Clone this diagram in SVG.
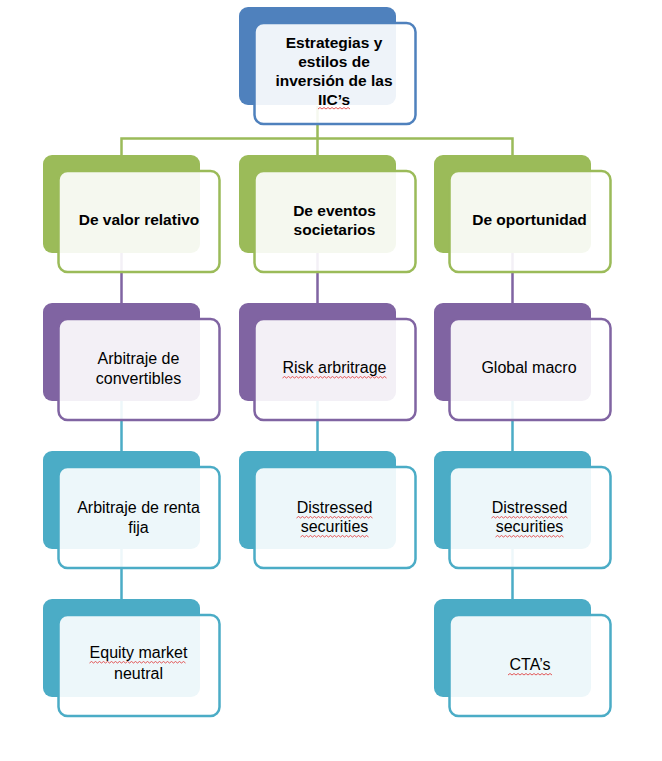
<svg xmlns="http://www.w3.org/2000/svg" width="662" height="761" viewBox="0 0 662 761">
<style>
.bk{stroke:none}
.fr{fill:#fff;fill-opacity:0.9;stroke-width:2.5}
.g .bk{fill:#9BBB59}.g .fr{stroke:#9BBB59}
.p .bk{fill:#8064A2}.p .fr{stroke:#8064A2}
.b .bk{fill:#4BACC6}.b .fr{stroke:#4BACC6}
.t .bk{fill:#4F81BD}.t .fr{stroke:#4F81BD}
text{font-family:"Liberation Sans",Arial,sans-serif;font-size:16px;fill:#000;text-anchor:middle}
.bd{font-weight:bold;font-size:15.5px}
.cn{fill:none;stroke-width:2.5}
.sq{fill:none;stroke:#e03030;stroke-width:0.8}
</style>
<rect width="662" height="761" fill="#fff"/>
<g id="connectors">
<path class="cn" stroke="#9BBB59" d="M317.5,106 V138.5 M121.5,155 V138.5 H512.5 V155 M317.5,138.5 V155"/>
<path class="cn" stroke="#8064A2" d="M121.5,253 V303 M317.5,253 V303 M512.5,253 V303"/>
<path class="cn" stroke="#4BACC6" d="M121.5,401 V451 M317.5,401 V451 M512.5,401 V451 M121.5,549 V599 M512.5,549 V599"/>
</g>
<g id="n-root" class="t"><rect class="bk" x="239" y="7" width="157" height="98" rx="9"/><rect class="fr" x="254.5" y="23" width="161" height="101" rx="9"/>
<text class="bd" x="334" y="48">Estrategias y</text><text class="bd" x="334" y="67">estilos de</text><text class="bd" x="334" y="86">inversión de las</text><text class="bd" x="334" y="105">IIC’s</text></g>
<g id="n-valor" class="g"><rect class="bk" x="43" y="155" width="157" height="98" rx="9"/><rect class="fr" x="58.5" y="171" width="161" height="101" rx="9"/>
<text class="bd" x="139" y="225">De valor relativo</text></g>
<g id="n-eventos" class="g"><rect class="bk" x="239" y="155" width="157" height="98" rx="9"/><rect class="fr" x="254.5" y="171" width="161" height="101" rx="9"/>
<text class="bd" x="334.5" y="216">De eventos</text><text class="bd" x="334.5" y="235">societarios</text></g>
<g id="n-oportunidad" class="g"><rect class="bk" x="434" y="155" width="157" height="98" rx="9"/><rect class="fr" x="449.5" y="171" width="161" height="101" rx="9"/>
<text class="bd" x="529.5" y="225">De oportunidad</text></g>
<g id="n-convertibles" class="p"><rect class="bk" x="43" y="303" width="157" height="98" rx="9"/><rect class="fr" x="58.5" y="319" width="161" height="101" rx="9"/>
<text x="138.5" y="364">Arbitraje de</text><text x="138.5" y="384">convertibles</text></g>
<g id="n-risk" class="p"><rect class="bk" x="239" y="303" width="157" height="98" rx="9"/><rect class="fr" x="254.5" y="319" width="161" height="101" rx="9"/>
<text x="334.5" y="373">Risk arbritrage</text></g>
<g id="n-global" class="p"><rect class="bk" x="434" y="303" width="157" height="98" rx="9"/><rect class="fr" x="449.5" y="319" width="161" height="101" rx="9"/>
<text x="529" y="373">Global macro</text></g>
<g id="n-renta" class="b"><rect class="bk" x="43" y="451" width="157" height="98" rx="9"/><rect class="fr" x="58.5" y="467" width="161" height="101" rx="9"/>
<text x="138.5" y="513">Arbitraje de renta</text><text x="138.5" y="533">fija</text></g>
<g id="n-distressed1" class="b"><rect class="bk" x="239" y="451" width="157" height="98" rx="9"/><rect class="fr" x="254.5" y="467" width="161" height="101" rx="9"/>
<text x="334.5" y="513">Distressed</text><text x="334.5" y="532">securities</text></g>
<g id="n-distressed2" class="b"><rect class="bk" x="434" y="451" width="157" height="98" rx="9"/><rect class="fr" x="449.5" y="467" width="161" height="101" rx="9"/>
<text x="529.5" y="513">Distressed</text><text x="529.5" y="532">securities</text></g>
<g id="n-equity" class="b"><rect class="bk" x="43" y="599" width="157" height="98" rx="9"/><rect class="fr" x="58.5" y="615" width="161" height="101" rx="9"/>
<text x="138.5" y="658">Equity market</text><text x="138.5" y="679">neutral</text></g>
<g id="n-cta" class="b"><rect class="bk" x="434" y="599" width="157" height="98" rx="9"/><rect class="fr" x="449.5" y="615" width="161" height="101" rx="9"/>
<text x="530" y="670">CTA’s</text></g>
<g id="spellcheck">
<path class="sq" d="M318,109 l2,-1.5 2,1.5 2,-1.5 2,1.5 2,-1.5 2,1.5 2,-1.5 2,1.5 2,-1.5 2,1.5 2,-1.5 2,1.5 2,-1.5 2,1.5 2,-1.5 2,1.5"/>
<path class="sq" d="M282.5,378 l2,-1.5 2,1.5 2,-1.5 2,1.5 2,-1.5 2,1.5 2,-1.5 2,1.5 2,-1.5 2,1.5 2,-1.5 2,1.5 2,-1.5 2,1.5 2,-1.5 2,1.5 2,-1.5 2,1.5 2,-1.5 2,1.5 2,-1.5 2,1.5 2,-1.5 2,1.5 2,-1.5 2,1.5 2,-1.5 2,1.5 2,-1.5 2,1.5 2,-1.5 2,1.5 2,-1.5 2,1.5 2,-1.5 2,1.5 2,-1.5 2,1.5 2,-1.5 2,1.5 2,-1.5 2,1.5 2,-1.5 2,1.5 2,-1.5 2,1.5 2,-1.5 2,1.5 2,-1.5 2,1.5 2,-1.5 2,1.5"/>
<path class="sq" d="M296.5,518 l2,-1.5 2,1.5 2,-1.5 2,1.5 2,-1.5 2,1.5 2,-1.5 2,1.5 2,-1.5 2,1.5 2,-1.5 2,1.5 2,-1.5 2,1.5 2,-1.5 2,1.5 2,-1.5 2,1.5 2,-1.5 2,1.5 2,-1.5 2,1.5 2,-1.5 2,1.5 2,-1.5 2,1.5 2,-1.5 2,1.5 2,-1.5 2,1.5 2,-1.5 2,1.5 2,-1.5 2,1.5 2,-1.5 2,1.5 2,-1.5 2,1.5"/>
<path class="sq" d="M300.5,537 l2,-1.5 2,1.5 2,-1.5 2,1.5 2,-1.5 2,1.5 2,-1.5 2,1.5 2,-1.5 2,1.5 2,-1.5 2,1.5 2,-1.5 2,1.5 2,-1.5 2,1.5 2,-1.5 2,1.5 2,-1.5 2,1.5 2,-1.5 2,1.5 2,-1.5 2,1.5 2,-1.5 2,1.5 2,-1.5 2,1.5 2,-1.5 2,1.5 2,-1.5 2,1.5 2,-1.5 2,1.5"/>
<path class="sq" d="M491.5,518 l2,-1.5 2,1.5 2,-1.5 2,1.5 2,-1.5 2,1.5 2,-1.5 2,1.5 2,-1.5 2,1.5 2,-1.5 2,1.5 2,-1.5 2,1.5 2,-1.5 2,1.5 2,-1.5 2,1.5 2,-1.5 2,1.5 2,-1.5 2,1.5 2,-1.5 2,1.5 2,-1.5 2,1.5 2,-1.5 2,1.5 2,-1.5 2,1.5 2,-1.5 2,1.5 2,-1.5 2,1.5 2,-1.5 2,1.5 2,-1.5 2,1.5"/>
<path class="sq" d="M495.5,537 l2,-1.5 2,1.5 2,-1.5 2,1.5 2,-1.5 2,1.5 2,-1.5 2,1.5 2,-1.5 2,1.5 2,-1.5 2,1.5 2,-1.5 2,1.5 2,-1.5 2,1.5 2,-1.5 2,1.5 2,-1.5 2,1.5 2,-1.5 2,1.5 2,-1.5 2,1.5 2,-1.5 2,1.5 2,-1.5 2,1.5 2,-1.5 2,1.5 2,-1.5 2,1.5 2,-1.5 2,1.5"/>
<path class="sq" d="M89.5,663 l2,-1.5 2,1.5 2,-1.5 2,1.5 2,-1.5 2,1.5 2,-1.5 2,1.5 2,-1.5 2,1.5 2,-1.5 2,1.5 2,-1.5 2,1.5 2,-1.5 2,1.5 2,-1.5 2,1.5 2,-1.5 2,1.5 2,-1.5 2,1.5 2,-1.5 2,1.5 2,-1.5 2,1.5 2,-1.5 2,1.5 2,-1.5 2,1.5 2,-1.5 2,1.5 2,-1.5 2,1.5 2,-1.5 2,1.5 2,-1.5 2,1.5 2,-1.5 2,1.5 2,-1.5 2,1.5 2,-1.5 2,1.5 2,-1.5 2,1.5 2,-1.5 2,1.5"/>
<path class="sq" d="M508,675 l2,-1.5 2,1.5 2,-1.5 2,1.5 2,-1.5 2,1.5 2,-1.5 2,1.5 2,-1.5 2,1.5 2,-1.5 2,1.5 2,-1.5 2,1.5 2,-1.5 2,1.5 2,-1.5 2,1.5 2,-1.5 2,1.5 2,-1.5 2,1.5"/>
</g>
</svg>
